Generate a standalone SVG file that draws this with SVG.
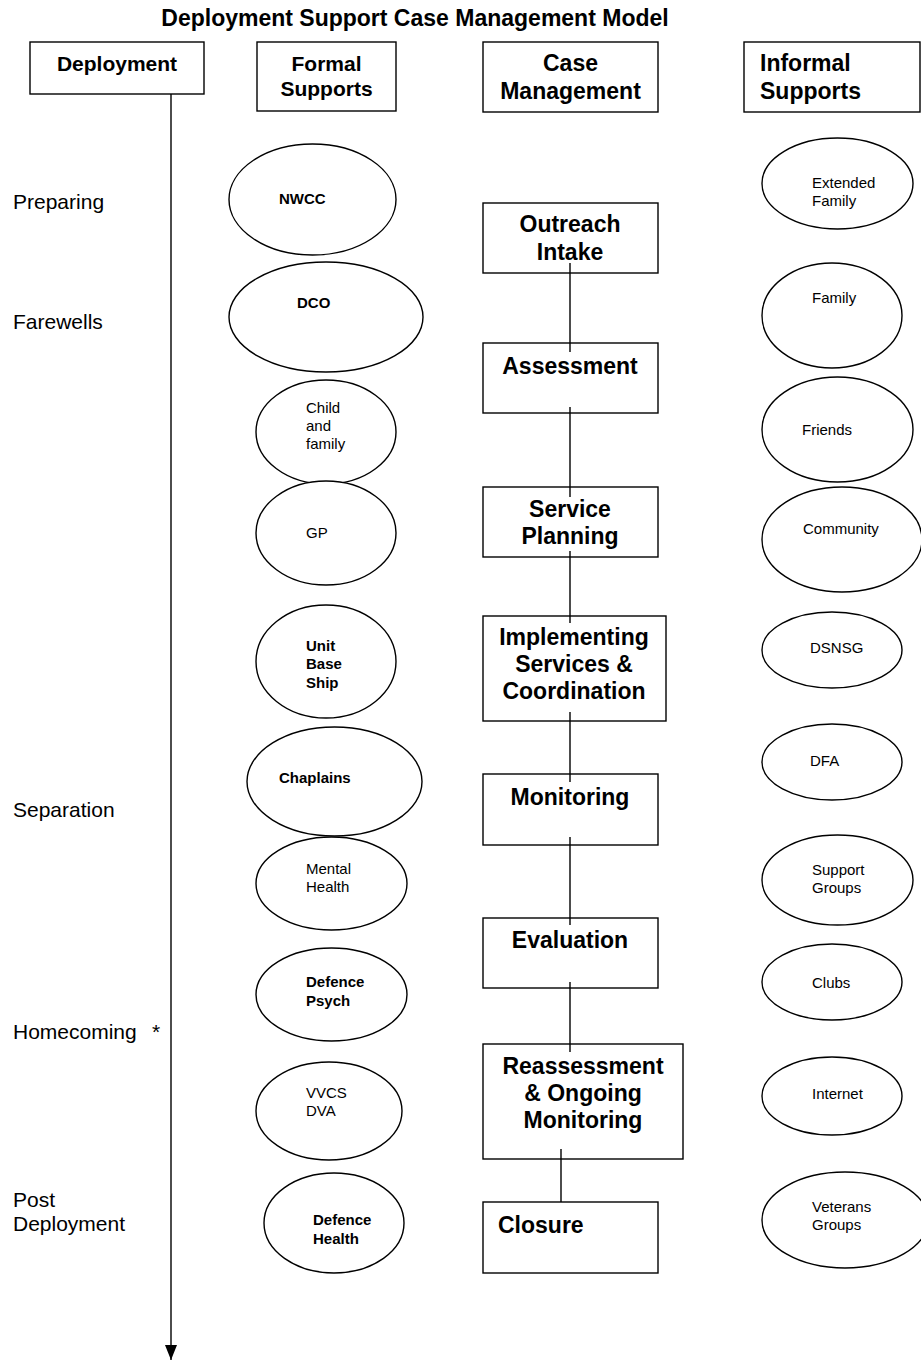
<svg xmlns="http://www.w3.org/2000/svg" width="921" height="1360" viewBox="0 0 921 1360">
<style>
text{font-family:"Liberation Sans",Arial,sans-serif;fill:#000}
.t{font-size:23px;font-weight:bold}
.h{font-size:21px;font-weight:bold}
.hb{font-size:23px;font-weight:bold}
.b{font-size:23px;font-weight:bold}
.l{font-size:21px}
.e{font-size:15px}
.eb{font-size:15px;font-weight:bold}
.m{text-anchor:middle}
rect,ellipse{fill:#fff;stroke:#000;stroke-width:1.4}
.c line{stroke:#000;stroke-width:1.4}
</style>
<defs>
<marker id="ah" markerWidth="16" markerHeight="12" refX="15" refY="6" orient="auto" markerUnits="userSpaceOnUse">
<path d="M0,0 L15,6 L0,12 Z" fill="#000"/>
</marker>
</defs>
<text class="t m" x="415" y="26">Deployment Support Case Management Model</text>

<g id="hdr-deployment"><rect x="30" y="42" width="174" height="52"/><text class="h m" x="117" y="71">Deployment</text></g>
<g id="hdr-formal"><rect x="257" y="42" width="139" height="69"/><text class="h m" x="326.5" y="71">Formal</text><text class="h m" x="326.5" y="96">Supports</text></g>
<g id="hdr-case"><rect x="483" y="42" width="175" height="70"/><text class="hb m" x="570.5" y="71">Case</text><text class="hb m" x="570.5" y="99">Management</text></g>
<g id="hdr-informal"><rect x="744" y="42" width="176" height="70"/><text class="hb" x="760" y="71">Informal</text><text class="hb" x="760" y="99">Supports</text></g>

<g id="phases">
<text class="l" x="13" y="209">Preparing</text>
<text class="l" x="13" y="329">Farewells</text>
<text class="l" x="13" y="817">Separation</text>
<text class="l" x="13" y="1039">Homecoming</text>
<text class="l" x="152" y="1039">*</text>
<text class="l" x="13" y="1207">Post</text>
<text class="l" x="13" y="1231">Deployment</text>
</g>

<g class="c" id="connectors">
<line x1="171" y1="94" x2="171" y2="1360" marker-end="url(#ah)"/>
<line x1="570" y1="263" x2="570" y2="352"/>
<line x1="570" y1="407" x2="570" y2="497"/>
<line x1="570" y1="551" x2="570" y2="623"/>
<line x1="570" y1="712" x2="570" y2="782"/>
<line x1="570" y1="837" x2="570" y2="925"/>
<line x1="570" y1="982" x2="570" y2="1052"/>
<line x1="561" y1="1149" x2="561" y2="1202"/>
</g>

<g id="cm-outreach"><rect x="483" y="203" width="175" height="70" fill="none" style="fill:none"/><text class="b m" x="570" y="232">Outreach</text><text class="b m" x="570" y="260">Intake</text></g>
<g id="cm-assessment"><rect x="483" y="343" width="175" height="70" style="fill:none"/><text class="b m" x="570" y="374">Assessment</text></g>
<g id="cm-planning"><rect x="483" y="487" width="175" height="70" style="fill:none"/><text class="b m" x="570" y="517">Service</text><text class="b m" x="570" y="544">Planning</text></g>
<g id="cm-implementing"><rect x="483" y="616" width="183" height="105" style="fill:none"/><text class="b m" x="574" y="645">Implementing</text><text class="b m" x="574" y="672">Services &amp;</text><text class="b m" x="574" y="699">Coordination</text></g>
<g id="cm-monitoring"><rect x="483" y="774" width="175" height="71" style="fill:none"/><text class="b m" x="570" y="805">Monitoring</text></g>
<g id="cm-evaluation"><rect x="483" y="918" width="175" height="70" style="fill:none"/><text class="b m" x="570" y="948">Evaluation</text></g>
<g id="cm-reassessment"><rect x="483" y="1044" width="200" height="115" style="fill:none"/><text class="b m" x="583" y="1074">Reassessment</text><text class="b m" x="583" y="1101">&amp; Ongoing</text><text class="b m" x="583" y="1128">Monitoring</text></g>
<g id="cm-closure"><rect x="483" y="1202" width="175" height="71" style="fill:none"/><text class="b" x="498" y="1233">Closure</text></g>

<g id="fs-nwcc"><ellipse cx="312.5" cy="199.5" rx="83.5" ry="55.5"/><text class="eb" x="279" y="204">NWCC</text></g>
<g id="fs-dco"><ellipse cx="326" cy="317" rx="97" ry="55"/><text class="eb" x="297" y="308">DCO</text></g>
<g id="fs-child"><ellipse cx="326" cy="432" rx="70" ry="52"/><text class="e" x="306" y="413">Child</text><text class="e" x="306" y="431">and</text><text class="e" x="306" y="449">family</text></g>
<g id="fs-gp"><ellipse cx="326" cy="533" rx="70" ry="52"/><text class="e" x="306" y="538">GP</text></g>
<g id="fs-unit"><ellipse cx="326" cy="661.5" rx="70" ry="56.5"/><text class="eb" x="306" y="651">Unit</text><text class="eb" x="306" y="669">Base</text><text class="eb" x="306" y="688">Ship</text></g>
<g id="fs-chaplains"><ellipse cx="334.5" cy="781.5" rx="87.5" ry="54.5"/><text class="eb" x="279" y="783">Chaplains</text></g>
<g id="fs-mental"><ellipse cx="331.5" cy="883.5" rx="75.5" ry="46.5"/><text class="e" x="306" y="874">Mental</text><text class="e" x="306" y="892">Health</text></g>
<g id="fs-psych"><ellipse cx="331.5" cy="994.5" rx="75.5" ry="46.5"/><text class="eb" x="306" y="987">Defence</text><text class="eb" x="306" y="1006">Psych</text></g>
<g id="fs-vvcs"><ellipse cx="329" cy="1111" rx="73" ry="49"/><text class="e" x="306" y="1098">VVCS</text><text class="e" x="306" y="1116">DVA</text></g>
<g id="fs-health"><ellipse cx="334" cy="1223" rx="70" ry="50"/><text class="eb" x="313" y="1225">Defence</text><text class="eb" x="313" y="1244">Health</text></g>

<g id="is-extended"><ellipse cx="837.5" cy="183.5" rx="75.5" ry="45.5"/><text class="e" x="812" y="188">Extended</text><text class="e" x="812" y="206">Family</text></g>
<g id="is-family"><ellipse cx="832" cy="315.5" rx="70" ry="52.5"/><text class="e" x="812" y="303">Family</text></g>
<g id="is-friends"><ellipse cx="837.5" cy="429.5" rx="75.5" ry="52.5"/><text class="e" x="802" y="435">Friends</text></g>
<g id="is-community"><ellipse cx="842" cy="539.5" rx="80" ry="52.5"/><text class="e" x="803" y="534">Community</text></g>
<g id="is-dsnsg"><ellipse cx="832" cy="650" rx="70" ry="38"/><text class="e" x="810" y="653">DSNSG</text></g>
<g id="is-dfa"><ellipse cx="832" cy="762" rx="70" ry="38"/><text class="e" x="810" y="766">DFA</text></g>
<g id="is-support"><ellipse cx="837.5" cy="880" rx="75.5" ry="45"/><text class="e" x="812" y="875">Support</text><text class="e" x="812" y="893">Groups</text></g>
<g id="is-clubs"><ellipse cx="832" cy="982" rx="70" ry="38"/><text class="e" x="812" y="988">Clubs</text></g>
<g id="is-internet"><ellipse cx="832" cy="1096" rx="70" ry="39"/><text class="e" x="812" y="1099">Internet</text></g>
<g id="is-veterans"><ellipse cx="845" cy="1220" rx="83" ry="48"/><text class="e" x="812" y="1212">Veterans</text><text class="e" x="812" y="1230">Groups</text></g>
</svg>
